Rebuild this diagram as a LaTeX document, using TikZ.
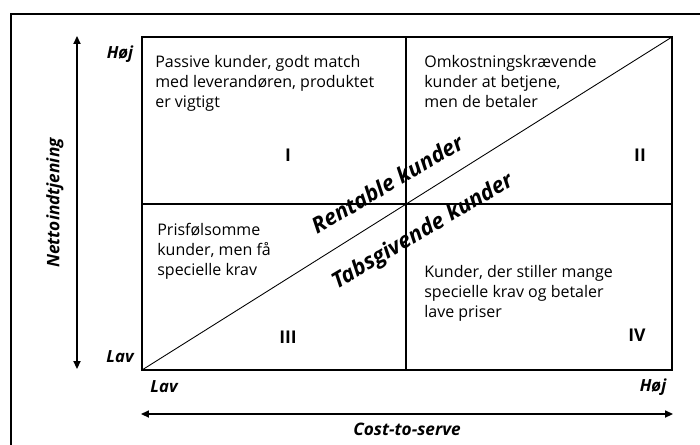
\documentclass[tikz,border=0pt]{standalone}
\usepackage{fontspec}
\setmainfont{Open Sans}
\usetikzlibrary{arrows.meta}
\tikzset{
  quadtext/.style={anchor=north west, align=left, inner sep=0pt,
    font=\fontsize{9.1}{11.4}\selectfont},
  numeral/.style={font=\bfseries\fontsize{10}{10}\selectfont},
  scalelabel/.style={font=\bfseries\itshape\fontsize{9.5}{10}\selectfont},
  axisname/.style={font=\bfseries\itshape\fontsize{9.8}{10}\selectfont},
  diaglabel/.style={font=\bfseries\itshape\fontsize{12.5}{12}\selectfont, rotate=30.5},
  axis/.style={line width=0.9pt, {Triangle[length=4.5pt,width=4pt]}-{Triangle[length=4.5pt,width=4pt]}}
}
\begin{document}
\begin{tikzpicture}[x=0.02cm,y=-0.02cm]
    \clip (0,0) rectangle (700,444);
    \draw[line width=1.2pt] (11,14) rectangle (720,470);

    % matrix
    \coordinate (ll) at (142,370);
    \coordinate (ur) at (672,37);
    \coordinate (mt) at (406,37);
    \coordinate (mb) at (406,370);
    \coordinate (ml) at (142,204);
    \coordinate (mr) at (672,204);
    \draw[line width=0.6pt] (ll) rectangle (ur);
    \draw[line width=0.6pt] (mt) -- (mb);
    \draw[line width=0.6pt] (ml) -- (mr);
    \draw[line width=0.5pt] (ll) -- (ur);

    % axes
    \coordinate (vtop) at (77,36);
    \coordinate (vbot) at (77,369);
    \coordinate (hleft) at (141,414);
    \coordinate (hright) at (673,414);
    \draw[axis] (vbot) -- (vtop);
    \draw[axis] (hleft) -- (hright);
    \node[axisname, rotate=90] (netto) at (55,203) {Nettoindtjening};
    \node[axisname] (cost) at (407,429) {Cost-to-serve};

    \node[scalelabel] (yhigh) at (120,54) {Høj};
    \node[scalelabel] (ylow) at (120,357) {Lav};
    \node[scalelabel] (xlow) at (164,387) {Lav};
    \node[scalelabel] (xhigh) at (653,387) {Høj};

    % quadrants
    \node[quadtext] (q1) at (155,55) {Passive kunder, godt match\\med leverandøren, produktet\\er vigtigt};
    \node[quadtext] (q2) at (424,55) {Omkostningskrævende\\kunder at betjene,\\men de betaler};
    \node[quadtext] (q3) at (157,223) {Prisfølsomme\\kunder, men få\\specielle krav};
    \node[quadtext] (q4) at (424,265) {Kunder, der stiller mange\\specielle krav og betaler\\lave priser};

    \node[numeral] (n1) at (288,155) {I};
    \node[numeral] (n2) at (640,155) {II};
    \node[numeral] (n3) at (288,337) {III};
    \node[numeral] (n4) at (637,335) {IV};

    \node[diaglabel] (rent) at (387,184) {Rentable kunder};
    \node[diaglabel] (tab) at (423,232) {Tabsgivende kunder};
\end{tikzpicture}
\end{document}
